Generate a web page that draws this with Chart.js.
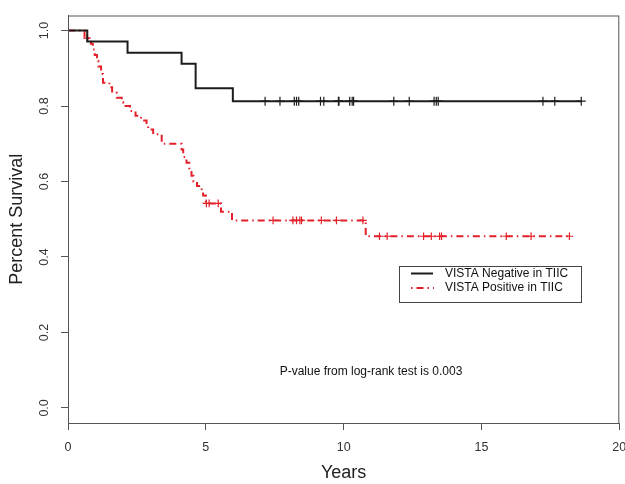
<!DOCTYPE html>
<html>
<head>
<meta charset="utf-8">
<title>VISTA survival</title>
<script src="https://cdn.jsdelivr.net/npm/chart.js@4"></script>
<style>
    body { margin: 0; background: #fff; }
    #wrap { width: 625px; height: 484px; }
</style>
</head>
<body>
<div id="wrap"><canvas id="kmChart" width="625" height="484"></canvas></div>
<script>
// Kaplan-Meier steps (years, survival after the drop)
const negEventTimes = [0.70, 2.16, 4.12, 4.63, 5.98];
const negSurvival = [0.971, 0.941, 0.912, 0.847, 0.813];
const negCensorTimes = [7.15, 7.69, 8.21, 8.29, 8.37, 9.16, 9.28, 9.81, 9.83, 10.22, 10.31, 10.36,
    11.82, 12.38, 13.28, 13.36, 13.43, 17.23, 17.66, 18.62];

const posEventTimes = [0.60, 0.83, 0.90, 0.97, 1.05, 1.10, 1.20, 1.27, 1.50, 1.60, 1.77, 1.95, 2.00,
    2.25, 2.45, 2.65, 2.85, 2.91, 3.09, 3.40, 4.12, 4.18, 4.30, 4.40, 4.48, 4.55, 4.68, 4.85, 4.90,
    5.00, 5.55, 5.95, 10.80];
const posSurvival = [0.980, 0.965, 0.950, 0.935, 0.920, 0.905, 0.885, 0.862, 0.850, 0.835, 0.822,
    0.810, 0.800, 0.787, 0.774, 0.762, 0.750, 0.738, 0.725, 0.700, 0.685, 0.665, 0.650, 0.632, 0.615,
    0.600, 0.588, 0.575, 0.563, 0.542, 0.520, 0.497, 0.455];
const posCensorTimes = [0.69, 5.02, 5.12, 5.45, 7.44, 8.16, 8.29, 8.41, 8.47, 9.19, 9.74, 10.70,
    11.30, 11.58, 12.90, 13.18, 13.48, 13.55, 15.90, 16.80, 18.19];

const xTicks = [0, 5, 10, 15, 20];
const yTicks = [0.0, 0.2, 0.4, 0.6, 0.8, 1.0];
const seriesNames = ['VISTA Negative in TIIC', 'VISTA Positive in TIIC'];
const pValueText = 'P-value from log-rank test is 0.003';

const BLACK = '#1c1c1c';
const RED = '#e3202a';
const FONT = '"Liberation Sans", Arial, Helvetica, sans-serif';

function survivalAt(times, surv, t) {
    let s = 1;
    for (let i = 0; i < times.length; i++) {
        if (times[i] <= t) s = surv[i];
    }
    return s;
}

function stepLine(times, surv, censors) {
    const end = Math.max(...censors);
    const pts = [{ x: 0, y: 1 }];
    times.forEach((t, i) => pts.push({ x: t, y: surv[i] }));
    pts.push({ x: end, y: survivalAt(times, surv, end) });
    return pts;
}

function censorPoints(times, surv, censors) {
    return censors.map(t => ({ x: t, y: survivalAt(times, surv, t) }));
}

// box around the plot + legend + p-value note
const decorations = {
    id: 'decorations',
    afterDraw(chart) {
        const { ctx, chartArea: a } = chart;
        ctx.save();
        ctx.strokeStyle = '#555';
        ctx.lineWidth = 1;
        ctx.strokeRect(a.left + 0.5, a.top + 0.5, a.right - a.left - 1, a.bottom - a.top);

        // legend
        const bx = 399, by = 266, bw = 182, bh = 36;
        ctx.strokeStyle = '#444';
        ctx.strokeRect(bx + 0.5, by + 0.5, bw, bh);
        ctx.lineWidth = 2;
        ctx.strokeStyle = BLACK;
        ctx.beginPath();
        ctx.moveTo(411, 273.5);
        ctx.lineTo(433, 273.5);
        ctx.stroke();
        ctx.strokeStyle = RED;
        ctx.setLineDash([1.5, 4, 7, 4]);
        ctx.beginPath();
        ctx.moveTo(411, 288);
        ctx.lineTo(434, 288);
        ctx.stroke();
        ctx.setLineDash([]);
        ctx.fillStyle = '#111';
        ctx.font = '12px ' + FONT;
        ctx.textBaseline = 'middle';
        ctx.textAlign = 'left';
        ctx.fillText(seriesNames[0], 445, 274);
        ctx.fillText(seriesNames[1], 445, 288);

        ctx.textAlign = 'center';
        ctx.fillText(pValueText, 371, 372);
        ctx.restore();
    }
};

const ctx = document.getElementById('kmChart');
new Chart(ctx, {
    type: 'line',
    data: {
        datasets: [{
            label: seriesNames[0],
            data: stepLine(negEventTimes, negSurvival, negCensorTimes),
            borderColor: BLACK,
            borderWidth: 2,
            stepped: 'before',
            pointRadius: 0,
            fill: false
        }, {
            label: seriesNames[1],
            data: stepLine(posEventTimes, posSurvival, posCensorTimes),
            borderColor: RED,
            borderWidth: 2,
            borderDash: [7, 4, 1.5, 4],
            stepped: 'before',
            pointRadius: 0,
            fill: false
        }, {
            label: 'censored negative',
            data: censorPoints(negEventTimes, negSurvival, negCensorTimes),
            showLine: false,
            pointStyle: 'cross',
            pointRadius: 4.5,
            pointBorderColor: BLACK,
            pointBorderWidth: 1.2
        }, {
            label: 'censored positive',
            data: censorPoints(posEventTimes, posSurvival, posCensorTimes),
            showLine: false,
            pointStyle: 'cross',
            pointRadius: 3.8,
            pointBorderColor: RED,
            pointBorderWidth: 1.2
        }]
    },
    options: {
        responsive: false,
        animation: false,
        layout: { padding: { left: 0, right: 5, top: 14, bottom: 0 } },
        plugins: {
            legend: { display: false },
            tooltip: { enabled: false }
        },
        scales: {
            x: {
                type: 'linear',
                min: 0,
                max: 20,
                afterBuildTicks: scale => { scale.ticks = xTicks.map(v => ({ value: v })); },
                afterFit: scale => {
                    scale.height = 61;
                    scale.paddingLeft = 0;
                    scale.paddingRight = 0;
                },
                grid: { drawOnChartArea: false, drawTicks: true, tickLength: 7, color: '#555' },
                border: { display: true, color: '#555', width: 1 },
                ticks: {
                    padding: 10,
                    color: '#333',
                    font: { family: FONT, size: 12.5 },
                    maxRotation: 0,
                    autoSkip: false,
                    callback: v => String(v)
                },
                title: {
                    display: true,
                    text: 'Years',
                    color: '#222',
                    font: { family: FONT, size: 18 },
                    padding: { top: 0, bottom: 0 }
                }
            },
            y: {
                type: 'linear',
                min: -0.04,
                max: 1.04,
                afterBuildTicks: scale => { scale.ticks = yTicks.map(v => ({ value: v })); },
                afterFit: scale => { scale.width = 68; },
                grid: { drawOnChartArea: false, drawTicks: true, tickLength: 7, color: '#555' },
                border: { display: true, color: '#555', width: 1 },
                ticks: {
                    padding: 8,
                    color: '#333',
                    font: { family: FONT, size: 12.5 },
                    minRotation: 90,
                    maxRotation: 90,
                    crossAlign: 'center',
                    autoSkip: false,
                    callback: v => v.toFixed(1)
                },
                title: {
                    display: true,
                    text: 'Percent Survival',
                    color: '#222',
                    font: { family: FONT, size: 18 },
                    padding: { top: 6, bottom: 0 }
                }
            }
        }
    },
    plugins: [decorations]
});
</script>
</body>
</html>
